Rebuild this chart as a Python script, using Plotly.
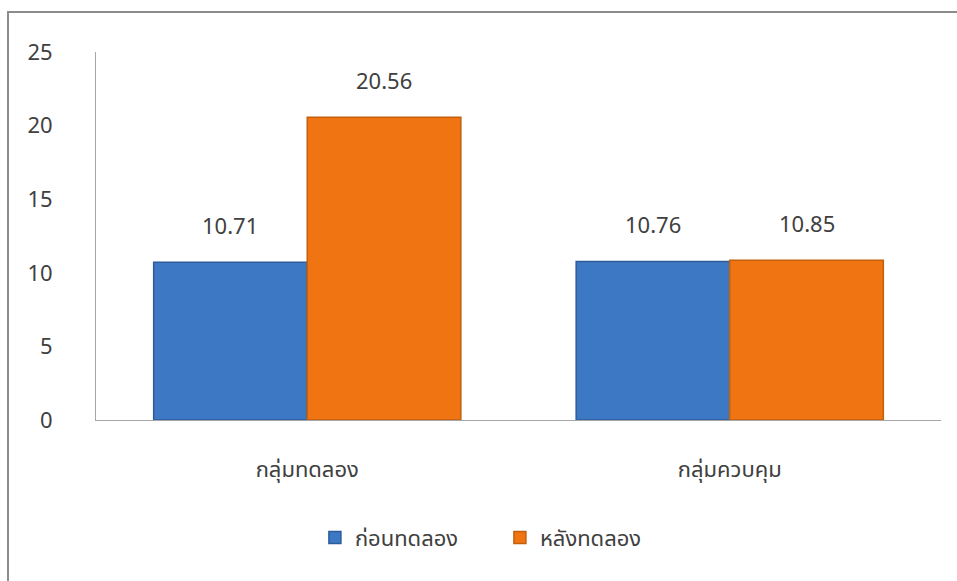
import plotly.graph_objects as go

categories = ["กลุ่มทดลอง", "กลุ่มควบคุม"]
series_names = ["ก่อนทดลอง", "หลังทดลอง"]
before_vals = [10.71, 10.76]
after_vals = [20.56, 10.85]
y_ticks = [0, 5, 10, 15, 20, 25]

colors = ["#3c78c4", "#f07512"]
edge_colors = ["#2d5c9a", "#c2600c"]
FONT = "Noto Sans Thai, Leelawadee UI, Tahoma, Noto Sans, sans-serif"
TXT = "#404040"
FS = 22

fig = go.Figure()
for name, vals, c, e in zip(series_names, [before_vals, after_vals], colors, edge_colors):
    fig.add_trace(go.Bar(
        x=categories, y=vals, name=name,
        marker=dict(color=c, line=dict(color=e, width=1.5)),
    ))

annotations = []
bar_w = 845 / 2 * (1 - 0.273) / 2
for i, vals in enumerate([before_vals, after_vals]):
    for cat, v in zip(categories, vals):
        annotations.append(dict(
            x=cat, y=v, xref="x", yref="y", text=f"{v:.2f}", showarrow=False,
            xshift=(-1 if i == 0 else 1) * bar_w / 2, yshift=35,
            font=dict(size=FS, color=TXT, family=FONT),
        ))

fig.update_layout(
    width=957, height=581,
    margin=dict(l=96, r=16, t=52, b=161),
    paper_bgcolor="white", plot_bgcolor="white",
    barmode="group", bargap=0.273, bargroupgap=0,
    font=dict(family=FONT, size=FS, color=TXT),
    showlegend=True,
    legend=dict(orientation="h", x=0.478, xanchor="center", y=-0.32, yanchor="middle",
                font=dict(size=FS, color=TXT, family=FONT), itemwidth=30,
                entrywidth=140, entrywidthmode="pixels", tracegroupgap=0),
    annotations=annotations,
    shapes=[dict(type="rect", xref="paper", yref="paper",
                 x0=(8 - 96) / 845, x1=1.2, y0=-0.6, y1=(420 - 12) / 368,
                 line=dict(color="#8c8c8c", width=2), fillcolor="rgba(0,0,0,0)", layer="below")],
)
fig.update_yaxes(range=[0, 25], tickvals=y_ticks, showgrid=False, zeroline=False,
                 showline=True, linecolor="#a6a6a6", linewidth=1,
                 ticks="", ticklabelstandoff=38, tickfont=dict(size=FS, color=TXT))
fig.update_xaxes(showgrid=False, showline=True, linecolor="#a6a6a6", linewidth=1,
                 ticks="", ticklabelstandoff=30, tickfont=dict(size=FS, color=TXT))

fig.write_html("out.html")
